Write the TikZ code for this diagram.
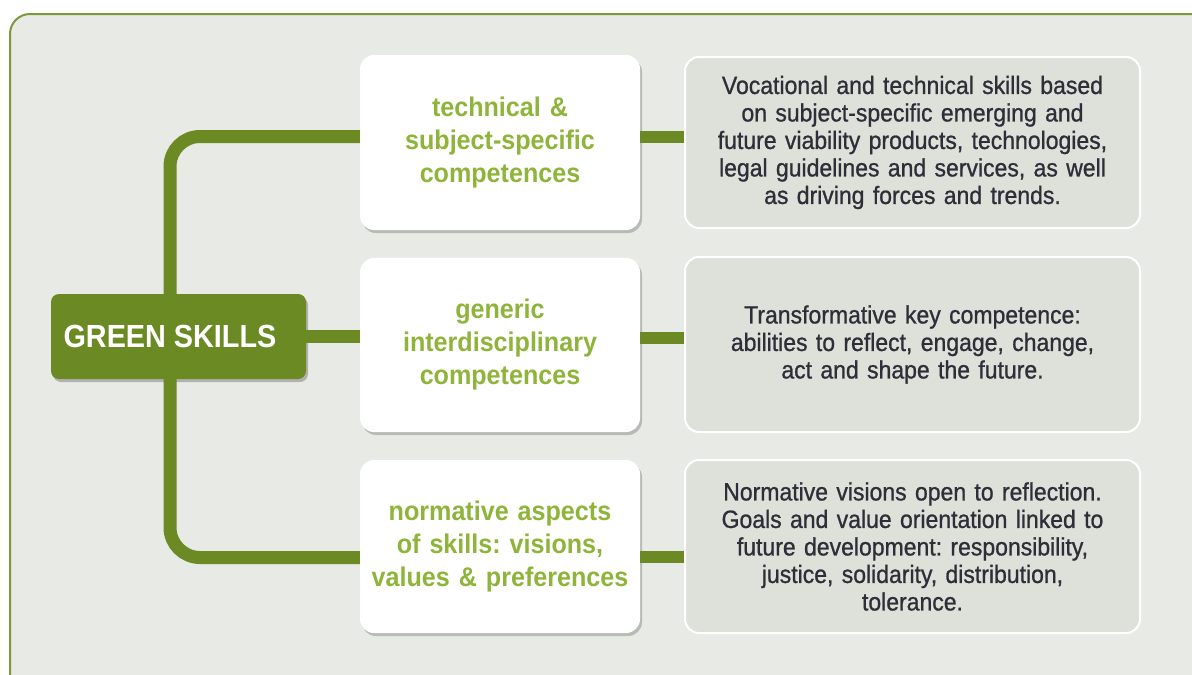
\documentclass[tikz,border=0pt]{standalone}
\usepackage{fontspec}
\setmainfont{Liberation Sans}
\newfontfamily\cnd[FakeStretch=0.93]{Liberation Sans}
\newfontfamily\cndm[FakeStretch=0.92,FakeBold=0.9]{Liberation Sans}
\newfontfamily\cndb[FakeStretch=0.90]{Liberation Sans}
\usetikzlibrary{shadows,calc}
\definecolor{bg}{HTML}{E8EAE5}
\definecolor{framegreen}{HTML}{7A9A3A}
\definecolor{dgreen}{HTML}{6B8A23}
\definecolor{lgreen}{HTML}{8FB43A}
\definecolor{greyfill}{HTML}{DEE0DA}
\definecolor{greytext}{HTML}{2E2E38}
\frenchspacing
\tikzset{
  conn/.style={draw=dgreen, line width=13pt},
  conntwo/.style={draw=dgreen, line width=12pt},
  gsbox/.style={fill=dgreen, rounded corners=8pt, minimum width=255pt, minimum height=85pt,
    text=white, font=\cndb\bfseries\fontsize{32}{36}\selectfont,
    drop shadow={shadow xshift=2pt, shadow yshift=-3pt, opacity=.35, fill=black!70}},
  wbox/.style={fill=white, rounded corners=14pt, minimum width=280pt, text width=270pt,
    align=center, text=lgreen, font=\cnd\bfseries\fontsize{27}{33}\selectfont,
    drop shadow={shadow xshift=2pt, shadow yshift=-3pt, opacity=.3, fill=black!70}},
  gbox/.style={fill=greyfill, draw=white, line width=2pt, rounded corners=14pt,
    minimum width=455pt, text width=440pt, align=center, text=greytext,
    font=\cndm\fontsize{25}{27.5}\selectfont}
}
\begin{document}
\begin{tikzpicture}[x=1pt,y=-1pt]
\useasboundingbox (0,0) rectangle (1192,675);
\fill[white] (0,0) rectangle (1192,675);
\begin{scope}
\clip (0,0) rectangle (1192,675);
\draw[framegreen, line width=2pt, fill=bg, rounded corners=20pt] (10,14) rectangle (1215,700);
\end{scope}

\node[gsbox] (gs) at (178.5,336.5) {\kern-17pt GREEN SKILLS};

\node[wbox, minimum height=175pt] (w1) at (500,142.5) {technical \&\\subject-specific\\competences};
\node[wbox, minimum height=174pt] (w2) at (500,345) {generic\\interdisciplinary\\competences};
\node[wbox, minimum height=173pt] (w3) at (500,546.5) {normative aspects\\of skills: visions,\\values \& preferences};

\node[gbox, minimum height=171pt] (g1) at (912.5,142.5) {Vocational and technical skills based\\on subject-specific emerging and\\future viability products, technologies,\\legal guidelines and services, as well\\as driving forces and trends.};
\node[gbox, minimum height=175pt] (g2) at (912.5,344.5) {Transformative key competence:\\abilities to reflect, engage, change,\\act and shape the future.};
\node[gbox, minimum height=173pt] (g3) at (912.5,546.5) {Normative visions open to reflection.\\Goals and value orientation linked to\\future development: responsibility,\\justice, solidarity, distribution,\\tolerance.};

\draw[conn, rounded corners=30pt] ([xshift=-8.5pt]gs.north) |- ([yshift=6pt]w1.west);
\draw[conn] (gs.east) -- (gs.east -| w2.west);
\draw[conn, rounded corners=30pt] ([xshift=-8.5pt]gs.south) |- ([yshift=-11pt]w3.west);

\draw[conntwo] ([yshift=6pt]w1.east) -- ([yshift=6pt]w1.east -| g1.west);
\draw[conntwo] ([yshift=7pt]w2.east) -- ([yshift=7pt]w2.east -| g2.west);
\draw[conntwo] ([yshift=-10.5pt]w3.east) -- ([yshift=-10.5pt]w3.east -| g3.west);
\end{tikzpicture}
\end{document}
